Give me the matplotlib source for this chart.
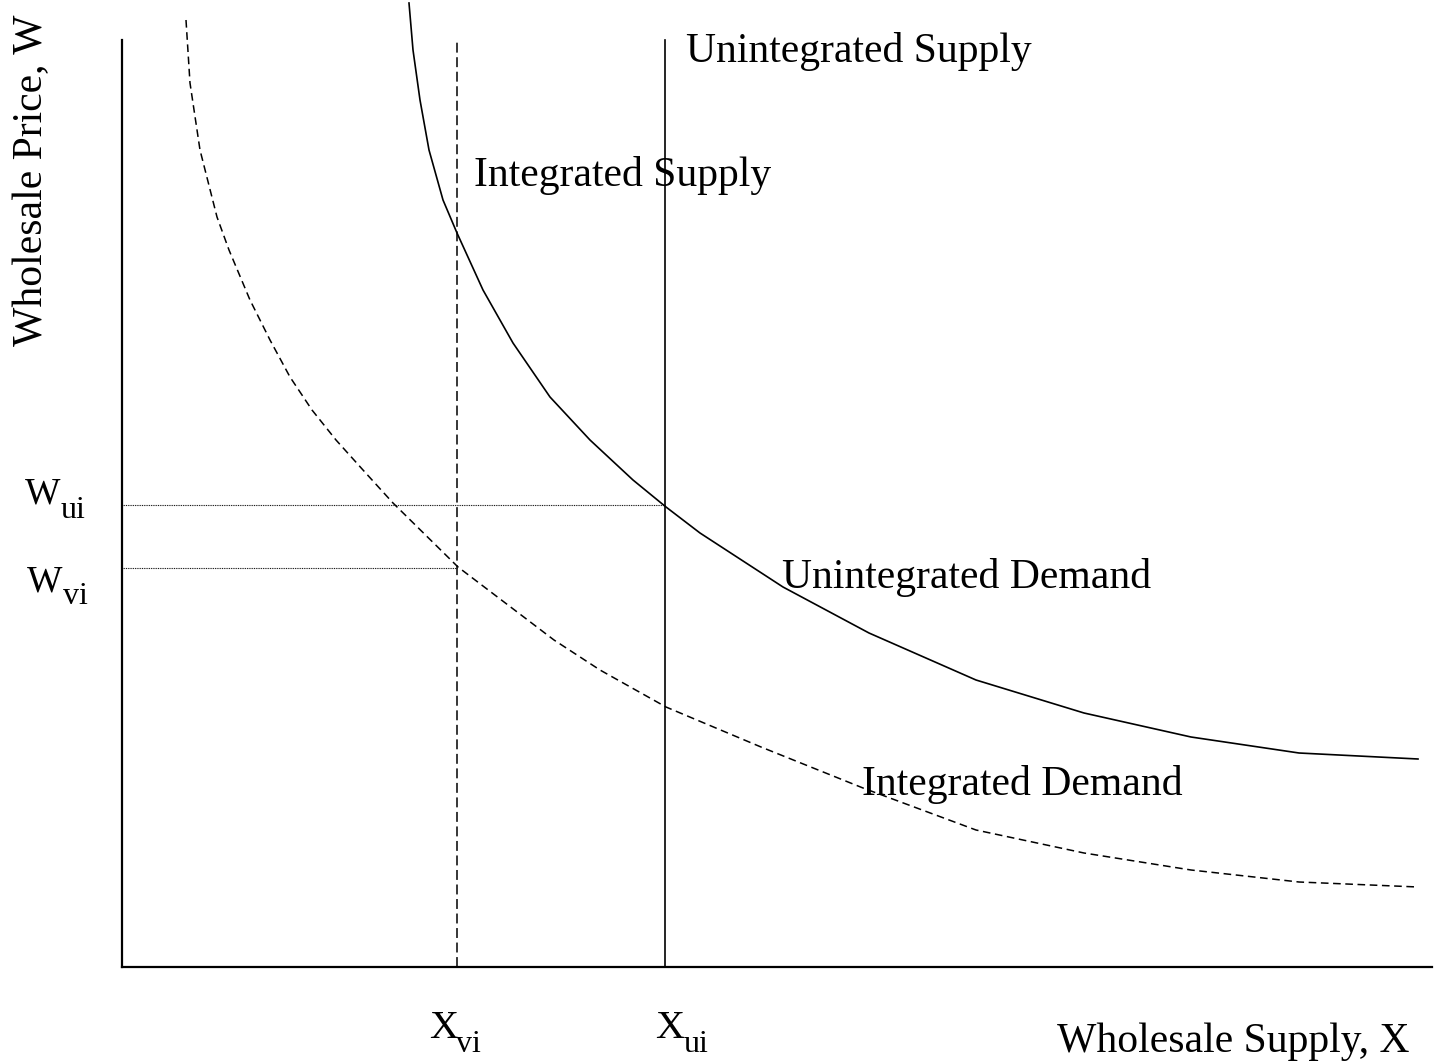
#!/usr/bin/env python3
"""Wholesale market diagram: integrated vs unintegrated supply and demand.

Units are arbitrary (the diagram has no numeric scale); the origin is the
corner of the two axis lines.
"""

import matplotlib

matplotlib.use("Agg")
import matplotlib.pyplot as plt

# Unintegrated demand (solid curve).
unint_demand_x = [2.87, 2.91, 2.98, 3.07, 3.21, 3.35, 3.61, 3.91, 4.28, 4.68,
                  5.11, 5.44, 5.78, 6.61, 7.47, 8.54, 9.62, 10.69, 11.77,
                  12.96]
unint_demand_w = [9.64, 9.17, 8.67, 8.17, 7.67, 7.34, 6.77, 6.24, 5.70, 5.27,
                  4.87, 4.60, 4.34, 3.80, 3.34, 2.87, 2.54, 2.30, 2.14,
                  2.08]

# Integrated demand (dashed curve).
int_demand_x = [0.64, 0.68, 0.78, 0.95, 1.07, 1.28, 1.48, 1.68, 1.90, 2.14,
                2.41, 2.71, 3.36, 4.32, 4.78, 5.44, 6.39, 7.41, 8.54, 9.62,
                10.69, 11.77, 12.96]
int_demand_w = [9.47, 8.84, 8.17, 7.50, 7.17, 6.67, 6.27, 5.90, 5.57, 5.27,
                4.97, 4.64, 4.00, 3.27, 2.97, 2.60, 2.20, 1.79, 1.37, 1.14,
                0.97, 0.85, 0.80]

# Supply quantities and the matching prices.
x_vi, x_ui = 3.35, 5.43
w_ui, w_vi = 4.62, 3.99
axis_top = 9.27
axis_right = 13.10

FONT = "Liberation Serif"
SIZE = 30


def label_with_sub(ax, x, y, main, sub, size, sub_size, sub_dx, sub_dy):
    """Big letter plus a lowered subscript, placed as two texts."""
    kw = dict(va="baseline", ha="left", clip_on=False)
    ax.text(x, y, main, fontsize=size, **kw)
    ax.text(x + sub_dx, y - sub_dy, sub, fontsize=sub_size, **kw)


def main() -> None:
    plt.rcParams["font.family"] = [FONT, "DejaVu Serif"]

    fig = plt.figure(figsize=(14.38, 10.61), dpi=100)
    ax = fig.add_axes([122 / 1438, 94 / 1061, 1316 / 1438, 967 / 1061])
    ax.set_xlim(0, 13.16)
    ax.set_ylim(0, 9.67)

    for side in ("top", "right"):
        ax.spines[side].set_visible(False)
    ax.spines["left"].set_bounds(0, axis_top)
    ax.spines["bottom"].set_bounds(0, axis_right)
    for side in ("left", "bottom"):
        ax.spines[side].set_linewidth(1.6)
    ax.set_xticks([])
    ax.set_yticks([])

    # demand curves
    ax.plot(unint_demand_x, unint_demand_w, color="black", lw=1.2,
            solid_joinstyle="round", clip_on=False)
    ax.plot(int_demand_x, int_demand_w, color="black", lw=1.1,
            dashes=(5, 3), clip_on=False)

    # vertical supply lines
    ax.plot([x_vi, x_vi], [0, axis_top], color="black", lw=1.1, dashes=(6.5, 3))
    ax.plot([x_ui, x_ui], [0, axis_top], color="black", lw=1.2)

    # dotted price guides
    ax.plot([0, x_ui], [w_ui, w_ui], color="black", lw=0.8, dashes=(0.8, 0.8))
    ax.plot([0, x_vi], [w_vi, w_vi], color="black", lw=0.8, dashes=(0.8, 0.8))

    kw = dict(fontsize=SIZE, va="baseline", ha="left", clip_on=False)
    ax.text(5.64, 9.05, "Unintegrated Supply", **kw)
    ax.text(3.52, 7.81, "Integrated Supply", **kw)
    ax.text(6.60, 3.79, "Unintegrated Demand", **kw)
    ax.text(7.40, 1.72, "Integrated Demand", **kw)
    ax.text(9.35, -0.85, "Wholesale Supply, X", **kw)

    label_with_sub(ax, 3.07, -0.71, "X", "vi", 29, 23, 0.27, 0.14)
    label_with_sub(ax, 5.33, -0.71, "X", "ui", 29, 23, 0.29, 0.14)
    label_with_sub(ax, -0.97, 4.64, "W", "ui", 27, 23, 0.36, 0.15)
    label_with_sub(ax, -0.95, 3.75, "W", "vi", 27, 23, 0.36, 0.12)

    ax.text(-0.90, 7.87, "Wholesale Price, W", fontsize=SIZE, rotation=90,
            ha="center", va="center", clip_on=False)

    fig.savefig("out.png", dpi=100)
    plt.close(fig)


if __name__ == "__main__":
    main()
